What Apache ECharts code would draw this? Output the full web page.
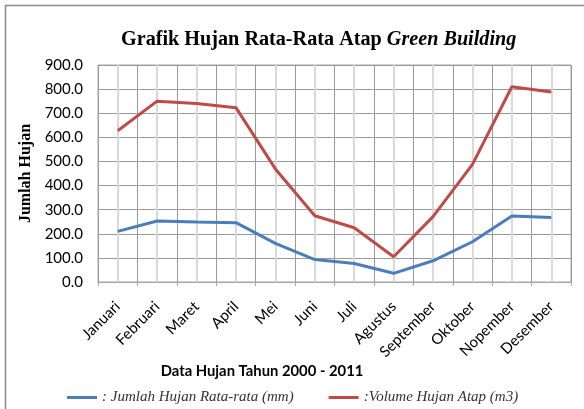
<!DOCTYPE html>
<html><head><meta charset="utf-8">
<script src="https://cdn.jsdelivr.net/npm/echarts@6/dist/echarts.min.js"></script>
<style>html,body{margin:0;padding:0;background:#fff}#c{width:584px;height:409px}</style>
</head><body><div id="c"></div>
<script>
const categories = ['Januari','Februari','Maret','April','Mei','Juni','Juli','Agustus','September','Oktober','Nopember','Desember'];
const rataRata = [210, 253, 249, 246, 160, 93, 77, 36, 88, 167, 274, 267];
const volumeAtap = [627, 750, 740, 723, 469, 275, 225, 105, 271, 488, 810, 788];
const yTicks = [0, 100, 200, 300, 400, 500, 600, 700, 800, 900];
const seriesNames = [': Jumlah Hujan Rata-rata (mm)', ':Volume Hujan Atap (m3)'];
const xTitle = 'Data Hujan Tahun 2000 - 2011';
const yTitle = 'Jumlah Hujan';

const chart = echarts.init(document.getElementById('c'), null, {renderer:'canvas'});
const sansF = 'Lato';
chart.setOption({
  animation:false,
  backgroundColor:'#fff',
  graphic:[
    {type:'rect', shape:{x:5.5,y:5.5,width:700,height:500}, style:{fill:'none',stroke:'#8c8c8c',lineWidth:1.5}, z:-1},
    {type:'text', x:262, y:371, style:{text:xTitle, x:0, y:0, align:'center', verticalAlign:'middle', font:'bold 14.8px Lato', fill:'#000'}}
  ],
  title:{
    text:'{n|Grafik Hujan Rata-Rata Atap }{i|Green Building}',
    left:116, top:25,
    textStyle:{rich:{
      n:{fontFamily:'Liberation Serif',fontWeight:'bold',fontSize:20.2,color:'#000'},
      i:{fontFamily:'Liberation Serif',fontWeight:'bold',fontStyle:'italic',fontSize:20.2,color:'#000'}
    }}
  },
  legend:{
    left:67, top:390, padding:0, icon:'rect', itemWidth:30, itemHeight:3, itemGap:35,
    textStyle:{fontFamily:'Liberation Serif',fontStyle:'italic',fontSize:15,color:'#333'},
    data:seriesNames
  },
  grid:{left:98,right:13,top:65,bottom:127,show:true,borderColor:'#a6a6a6',borderWidth:1},
  xAxis:[{
    type:'category', data:categories, boundaryGap:true,
    axisLine:{show:true,lineStyle:{color:'#a6a6a6'}},
    axisTick:{show:true,length:4,lineStyle:{color:'#a6a6a6'}},
    axisLabel:{rotate:45,interval:0,fontFamily:sansF,fontSize:15,color:'#000',margin:22},
    splitLine:{show:true,lineStyle:{color:'#9a9a9a',width:1}}
  },{
    type:'value', min:0, max:24, interval:1, position:'bottom',
    axisLine:{show:false},axisTick:{show:false},axisLabel:{show:false},
    splitLine:{show:true,lineStyle:{color:['rgba(0,0,0,0)','#d9d9d9'],width:2}}
  }],
  yAxis:{
    type:'value', min:yTicks[0], max:yTicks[yTicks.length-1], interval:100,
    axisLine:{show:false}, axisTick:{show:false},
    axisLabel:{formatter:v=>v.toFixed(1),fontFamily:sansF,fontSize:15,color:'#000',margin:15},
    splitLine:{show:true,lineStyle:{color:'#9a9a9a',width:1}},
    name:yTitle, nameLocation:'middle', nameGap:61, nameRotate:90,
    nameTextStyle:{fontFamily:'Liberation Serif',fontWeight:'bold',fontSize:16,color:'#000'}
  },
  series:[
    {name:seriesNames[0],type:'line',data:rataRata,symbol:'none',lineStyle:{color:'#4a7ebb',width:3},itemStyle:{color:'#4a7ebb'},z:3},
    {name:seriesNames[1],type:'line',data:volumeAtap,symbol:'none',lineStyle:{color:'#be4b48',width:3},itemStyle:{color:'#be4b48'},z:3}
  ]
});
</script></body></html>
